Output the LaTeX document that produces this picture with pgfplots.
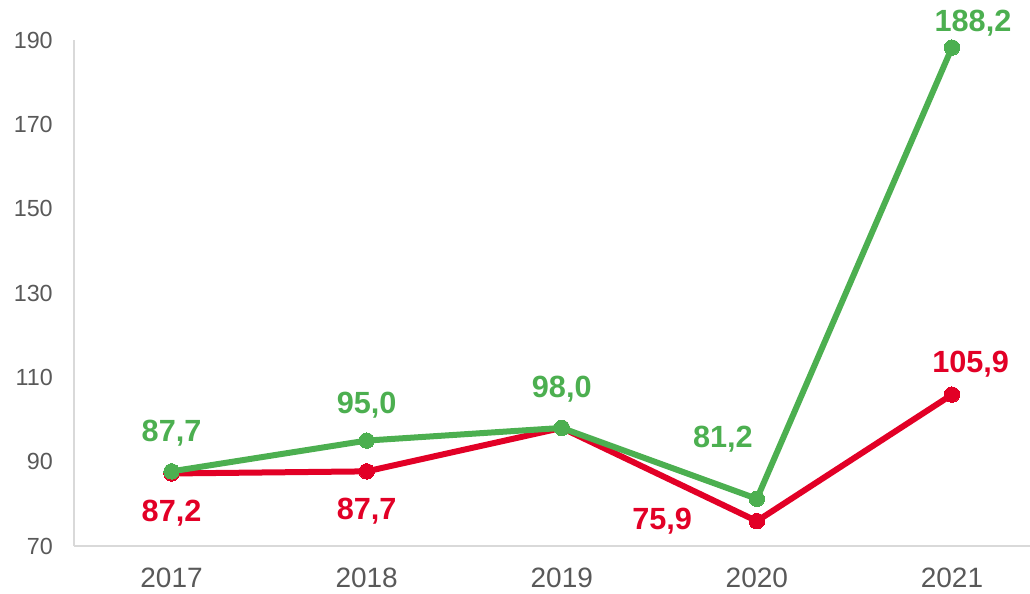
\documentclass[border=0pt]{standalone}
\usepackage{pgfplots}
\pgfplotsset{compat=1.18}
\usepackage{fontspec}
\setmainfont{Liberation Sans}
\definecolor{cgreen}{RGB}{76,175,80}
\definecolor{cred}{RGB}{226,0,38}
\definecolor{axgray}{RGB}{217,217,217}
\definecolor{txtgray}{RGB}{89,89,89}
\begin{document}
\begin{tikzpicture}
\begin{axis}[
  scale only axis,
  width=717pt, height=379.5pt,
  xmin=-0.5, xmax=4.4,
  ymin=70, ymax=190,
  clip=false,
  axis x line*=bottom,
  axis y line*=left,
  axis line style={draw=axgray, line width=1.2pt},
  major tick length=0pt,
  xtick={0,1,2,3,4},
  xticklabels={2017,2018,2019,2020,2021},
  ytick={70,90,110,130,150,170,190},
  /pgf/number format/assume math mode=true,
  xticklabel style={font=\fontsize{21}{24}\selectfont, text=txtgray, anchor=north, inner sep=0pt, yshift=-16pt},
  yticklabel style={font=\fontsize{17.5}{20}\selectfont, text=txtgray, anchor=east, inner sep=0pt, xshift=-15.75pt},
]
\addplot[cred, line width=4.5pt, mark=*, mark size=5.8pt, mark options={fill=cred, draw=cred, line width=0pt}] coordinates {
  (0,87.2) (1,87.7) (2,98.0) (3,75.9) (4,105.9)};
\addplot[cgreen, line width=4.5pt, mark=*, mark size=5.8pt, mark options={fill=cgreen, draw=cgreen, line width=0pt}] coordinates {
  (0,87.7) (1,95.0) (2,98.0) (3,81.2) (4,188.2)};
% labels
\addplot[draw=none, mark=none, point meta=explicit symbolic,
  visualization depends on={\thisrow{dx} \as \dx},
  visualization depends on={\thisrow{dy} \as \dy},
  nodes near coords,
  every node near coord/.style={anchor=center, inner sep=0pt, text=cred, font=\fontsize{23}{26}\selectfont\bfseries, xshift=\dx pt, yshift=\dy pt},
] table[x=x, y=y, meta=lab] {
x y lab dx dy
0 87.2 {87,2} 0 -30
1 87.7 {87,7} 0 -30
3 75.9 {75,9} -71 0
4 105.9 {105,9} 14 22.5
};
\addplot[draw=none, mark=none, point meta=explicit symbolic,
  visualization depends on={\thisrow{dx} \as \dx},
  visualization depends on={\thisrow{dy} \as \dy},
  nodes near coords,
  every node near coord/.style={anchor=center, inner sep=0pt, text=cgreen, font=\fontsize{23}{26}\selectfont\bfseries, xshift=\dx pt, yshift=\dy pt},
] table[x=x, y=y, meta=lab] {
x y lab dx dy
0 87.7 {87,7} 0 28.5
1 95.0 {95,0} 0 26.5
2 98.0 {98,0} 0 29
3 81.2 {81,2} -25.5 45
4 188.2 {188,2} 15.75 18
};
\end{axis}
\pgfresetboundingbox
\path[use as bounding box] ([xshift=-55.5pt,yshift=-35.25pt]current axis.south west) rectangle ([yshift=30pt]current axis.north east);
\end{tikzpicture}
\end{document}
